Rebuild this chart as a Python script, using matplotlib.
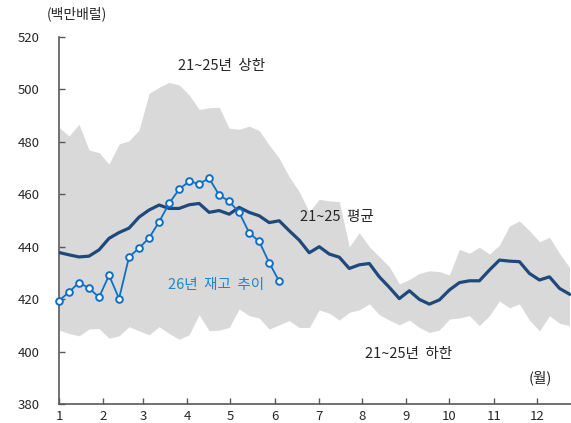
import matplotlib
matplotlib.use("Agg")
import matplotlib.pyplot as plt
import numpy as np

plt.rcParams['font.family'] = ['Noto Sans CJK KR', 'DejaVu Sans']

weeks = list(range(1, 53))
avg_2125 = [437.8, 436.9, 436.1, 436.4, 438.8, 443.2, 445.4, 447.1, 451.3, 454.0,
            455.9, 454.6, 454.6, 456.0, 456.5, 453.1, 453.8, 452.4, 455.0, 453.1,
            451.8, 449.2, 449.9, 446.1, 442.5, 437.7, 440.0, 437.2, 436.0, 431.7,
            433.1, 433.6, 428.5, 424.5, 420.2, 423.2, 419.9, 418.1, 419.7, 423.5,
            426.3, 427.0, 427.0, 431.1, 434.9, 434.5, 434.3, 429.8, 427.3, 428.5,
            424.1, 421.9]
upper_2125 = [485.5, 482.3, 486.7, 476.9, 475.9, 471.5, 479.2, 480.4, 484.5, 498.5,
              500.8, 502.7, 501.7, 497.9, 492.4, 493.0, 493.2, 485.2, 484.8, 486.0,
              484.3, 478.8, 473.7, 466.7, 461.0, 453.3, 458.1, 457.5, 457.2, 440.0,
              445.3, 440.0, 436.2, 432.4, 425.8, 427.5, 429.8, 430.8, 430.5, 429.2,
              439.0, 437.5, 439.8, 437.2, 440.6, 447.9, 449.8, 446.1, 441.9, 443.6,
              437.5, 432.1]
lower_2125 = [408.2, 406.9, 406.0, 408.6, 408.8, 405.1, 406.0, 409.5, 407.9, 406.4,
              409.5, 406.9, 404.7, 406.4, 414.1, 407.9, 408.2, 409.2, 416.3, 413.7,
              412.8, 408.6, 410.2, 411.8, 409.2, 409.2, 415.9, 414.6, 412.0, 415.0,
              415.9, 418.2, 414.1, 412.0, 410.2, 412.0, 409.2, 407.3, 408.2, 412.4,
              412.8, 413.7, 409.9, 413.7, 419.3, 416.7, 418.2, 412.0, 407.9, 413.7,
              410.8, 409.9]
weeks_26 = list(range(1, 24))
stock_26 = [419.4, 422.7, 426.3, 424.2, 420.7, 429.1, 420.2, 436.1, 439.5, 443.3,
            449.5, 456.5, 461.9, 464.9, 464.0, 466.1, 459.7, 457.3, 453.1, 445.3,
            442.0, 433.9, 426.8]

month_labels = ['1', '2', '3', '4', '5', '6', '7', '8', '9', '10', '11', '12']
month_pos = [1.0, 5.43, 9.43, 13.83, 18.1, 22.6, 26.93, 31.27, 35.7, 40.0, 44.43, 48.77]
y_ticks = [380, 400, 420, 440, 460, 480, 500, 520]

W, H = 571, 423
fig = plt.figure(figsize=(W / 100, H / 100), dpi=100)
ax = fig.add_axes([59 / W, (H - 404) / H, (W - 59) / W, (404 - 37) / H])

ax.fill_between(weeks, lower_2125, upper_2125, color='#d9d9d9', linewidth=0, zorder=1)
ax.plot(weeks, avg_2125, color='#1f497d', linewidth=2.3, zorder=3)
ax.plot(weeks_26, stock_26, color='#0f6fc6', linewidth=1.3, marker='o',
        markersize=4.8, markerfacecolor='white', markeredgecolor='#0f6fc6',
        markeredgewidth=1.4, zorder=4, clip_on=False)

ax.set_xlim(1, 52.15)
ax.set_ylim(380, 520)
ax.set_yticks(y_ticks)
ax.set_xticks(month_pos)
ax.set_xticklabels(month_labels)

for s in ['top', 'right']:
    ax.spines[s].set_visible(False)
for s in ['left', 'bottom']:
    ax.spines[s].set_color('#595959')
    ax.spines[s].set_linewidth(1.2)

ax.tick_params(axis='y', direction='in', length=4, width=1, color='#595959',
               pad=14, labelsize=9.5, labelcolor='#262626')
ax.tick_params(axis='x', direction='in', length=4, width=1, color='#595959',
               pad=4, labelsize=9.5, labelcolor='#262626')

txt_kw = dict(fontsize=10.5, color='#262626', ha='center', va='center')
ax.text(17.2, 508.9, '21~25년  상한', **txt_kw)
ax.text(28.8, 451.3, '21~25  평균', **txt_kw)
ax.text(35.9, 398.9, '21~25년  하한', **txt_kw)
ax.text(16.7, 425.4, '26년  재고  추이', fontsize=10.5, color='#1f86d0', ha='center', va='center')
ax.text(49.1, 389.9, '(월)', **txt_kw)
fig.text(77 / W, 1 - 14 / H, '(백만배럴)', fontsize=10, color='#262626', ha='center', va='center')

fig.savefig('out.png', dpi=100)
